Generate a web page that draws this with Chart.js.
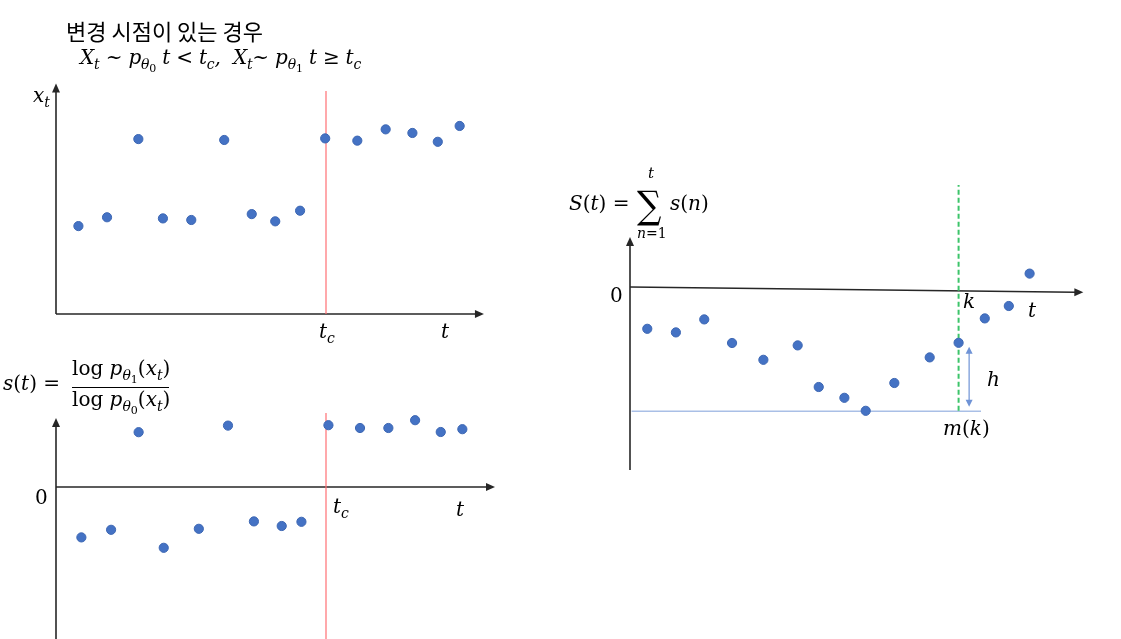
<!DOCTYPE html>
<html><head><meta charset="utf-8">
<script src="https://cdn.jsdelivr.net/npm/chart.js@4"></script>
<style>
html,body{margin:0;padding:0;background:#fff;}
#wrap{position:relative;width:1121px;height:639px;overflow:hidden;background:#fff;}
canvas{position:absolute;left:0;top:0;}
.m{position:absolute;font-family:"DejaVu Serif","Liberation Serif",serif;font-style:italic;font-size:20px;line-height:20px;white-space:nowrap;color:#000;}
.u{font-style:normal;}
.s{font-size:14px;position:relative;top:5px;}
.ss{font-size:11px;position:relative;top:3px;}
.t{position:absolute;font-family:"Noto Sans CJK KR","Noto Sans",sans-serif;font-size:22px;line-height:22px;white-space:nowrap;color:#000;}
</style></head><body><div id="wrap">
<canvas id="c1" width="1121" height="639"></canvas>
<canvas id="c2" width="1121" height="639"></canvas>
<canvas id="c3" width="1121" height="639"></canvas>

<div class="t" style="left:66px;top:19px;">변경 시점이 있는 경우</div>
<div class="m" style="left:80px;top:47px;letter-spacing:-0.2px;">X<span class="s">t</span> <span class="u">~</span> p<span class="s">θ<span class="ss u">0</span></span> t <span class="u">&lt;</span> t<span class="s">c</span>,&nbsp; X<span class="s">t</span><span class="u">~</span> p<span class="s">θ<span class="ss u">1</span></span> t <span class="u">≥</span> t<span class="s">c</span></div>

<div class="m" style="left:33px;top:85px;">x<span class="s">t</span></div>
<div class="m" style="left:319px;top:321px;">t<span class="s">c</span></div>
<div class="m" style="left:441px;top:321px;">t</div>

<div class="m" style="left:3px;top:373px;">s<span class="u">(</span>t<span class="u">) =</span></div>
<div class="m" style="left:72px;top:358px;"><span class="u">log</span> p<span class="s">θ<span class="ss u">1</span></span><span class="u">(</span>x<span class="s">t</span><span class="u">)</span></div>
<div style="position:absolute;left:72px;top:387px;width:97px;height:1px;background:#000;"></div>
<div class="m" style="left:72px;top:389px;"><span class="u">log</span> p<span class="s">θ<span class="ss u">0</span></span><span class="u">(</span>x<span class="s">t</span><span class="u">)</span></div>
<div class="m u" style="left:35px;top:487px;font-style:normal;">0</div>
<div class="m" style="left:333px;top:496px;">t<span class="s">c</span></div>
<div class="m" style="left:456px;top:499px;">t</div>

<div class="m" style="left:569px;top:193px;">S<span class="u">(</span>t<span class="u">) =</span></div>
<div class="m u" style="left:637px;top:186px;font-style:normal;font-size:38px;line-height:38px;transform:scaleX(0.9);transform-origin:left top;">∑</div>
<div class="m" style="left:648px;top:166px;font-size:15px;line-height:15px;">t</div>
<div class="m" style="left:637px;top:226px;font-size:14px;line-height:14px;">n<span class="u">=1</span></div>
<div class="m" style="left:670px;top:193px;">s<span class="u">(</span>n<span class="u">)</span></div>
<div class="m u" style="left:610px;top:285px;font-style:normal;">0</div>
<div class="m" style="left:963px;top:291px;">k</div>
<div class="m" style="left:1028px;top:300px;">t</div>
<div class="m" style="left:987px;top:369px;">h</div>
<div class="m" style="left:943px;top:418px;">m<span class="u">(</span>k<span class="u">)</span></div>
</div>
<script>
// ---- data ----
// Top: observations x_t
const tTop = [0.83, 1.89, 3.05, 3.96, 5.01, 6.23, 7.25, 8.12, 9.04, 9.97, 11.16, 12.21, 13.2, 14.14, 14.95];
const xTop = [3.89, 4.28, 7.74, 4.23, 4.16, 7.70, 4.42, 4.10, 4.57, 7.77, 7.67, 8.17, 8.01, 7.62, 8.32];
// Bottom: log-likelihood ratio s(t)
const tBottom = [0.94, 2.04, 3.06, 3.99, 5.29, 6.37, 7.33, 8.36, 9.09, 10.09, 11.26, 12.31, 13.30, 14.25, 15.05];
const sBottom = [-2.52, -2.14, 2.74, -3.04, -2.09, 3.07, -1.72, -1.95, -1.74, 3.09, 2.95, 2.95, 3.34, 2.75, 2.89];
// Right: cumulative sum S(t)
const tRight = [0.64, 1.70, 2.75, 3.78, 4.94, 6.21, 6.99, 7.94, 8.73, 9.79, 11.10, 12.17, 13.14, 14.03, 14.80];
const SRight = [-2.09, -2.27, -1.62, -2.80, -3.64, -2.92, -5.00, -5.54, -6.19, -4.80, -3.52, -2.79, -1.57, -0.95, 0.67];
const changePoint = 10;   // t_c
const alarmIndex = 11;    // k (0-based index into tRight)

const PT = '#4472C4';

function arrowHead(ctx, x0, y0, x1, y1, len, hw, color) {
  const a = Math.atan2(y1 - y0, x1 - x0);
  ctx.save();
  ctx.fillStyle = color;
  ctx.beginPath();
  ctx.moveTo(x1, y1);
  ctx.lineTo(x1 - len * Math.cos(a) + hw * Math.sin(a), y1 - len * Math.sin(a) - hw * Math.cos(a));
  ctx.lineTo(x1 - len * Math.cos(a) - hw * Math.sin(a), y1 - len * Math.sin(a) + hw * Math.cos(a));
  ctx.closePath();
  ctx.fill();
  ctx.restore();
}

function axesPlugin(lines) {
  return {
    id: 'axesArrows',
    beforeDatasetsDraw(chart) {
      const ctx = chart.ctx, xs = chart.scales.x, ys = chart.scales.y;
      lines.forEach(l => {
        const x0 = xs.getPixelForValue(l.from[0]), y0 = ys.getPixelForValue(l.from[1]);
        const x1 = xs.getPixelForValue(l.to[0]), y1 = ys.getPixelForValue(l.to[1]);
        const len = l.len || 9, hw = l.hw || 4;
        const a = Math.atan2(y1 - y0, x1 - x0);
        ctx.save();
        ctx.strokeStyle = l.color; ctx.lineWidth = l.width;
        ctx.beginPath();
        let sx = x0, sy = y0, ex = x1, ey = y1;
        if (l.end) { ex = x1 - (len - 1) * Math.cos(a); ey = y1 - (len - 1) * Math.sin(a); }
        if (l.start) { sx = x0 + (len - 1) * Math.cos(a); sy = y0 + (len - 1) * Math.sin(a); }
        ctx.moveTo(sx, sy); ctx.lineTo(ex, ey); ctx.stroke();
        ctx.restore();
        if (l.end) arrowHead(ctx, x0, y0, x1, y1, len, hw, l.color);
        if (l.start) arrowHead(ctx, x1, y1, x0, y0, len, hw, l.color);
      });
    }
  };
}

function pts(xs, ys) { return xs.map((x, i) => ({ x: x, y: ys[i] })); }

function makeChart(id, cfg) {
  return new Chart(document.getElementById(id), {
    type: 'scatter',
    data: { datasets: cfg.datasets },
    options: {
      responsive: false, animation: false, events: [],
      layout: { padding: cfg.padding, autoPadding: false },
      scales: {
        x: { type: 'linear', min: cfg.x[0], max: cfg.x[1], display: false },
        y: { type: 'linear', min: cfg.y[0], max: cfg.y[1], display: false }
      },
      plugins: { legend: { display: false }, tooltip: { enabled: false } }
    },
    plugins: [axesPlugin(cfg.axes)]
  });
}

function pointSet(data) {
  return { data: data, backgroundColor: PT, borderColor: '#3D67B3', borderWidth: 1, pointRadius: 4.6, clip: false, order: 0 };
}
function lineSet(data, color, width, dash) {
  return { data: data, showLine: true, borderColor: color, borderWidth: width, borderDash: dash || [], pointRadius: 0, clip: false, order: 1, fill: false };
}

const AX = '#262626';

// Top chart: x_t with change point
makeChart('c1', {
  padding: { left: 56, right: 633, top: 88, bottom: 325 },
  x: [0, 16], y: [0, 10],
  datasets: [
    pointSet(pts(tTop, xTop)),
    lineSet([{ x: changePoint, y: 0 }, { x: changePoint, y: 9.87 }], '#FF6F73', 1.2)
  ],
  axes: [
    { from: [0, 0], to: [0, 10.2], color: AX, width: 1.6, end: true },
    { from: [0, 0], to: [15.85, 0], color: AX, width: 1.6, end: true }
  ]
});

// Bottom chart: s(t)
makeChart('c2', {
  padding: { left: 56, right: 619.5, top: 413, bottom: 19 },
  x: [0, 16.5], y: [-6.65, 3.7],
  datasets: [
    pointSet(pts(tBottom, sBottom)),
    lineSet([{ x: changePoint, y: -7.6 }, { x: changePoint, y: 3.7 }], '#FF6F73', 1.2)
  ],
  axes: [
    { from: [0, -7.6], to: [0, 3.45], color: AX, width: 1.6, end: true },
    { from: [0, 0], to: [16.26, 0], color: AX, width: 1.6, end: true }
  ]
});

// Right chart: S(t) cumulative
const mLevel = Math.min(...SRight);
const kT = tRight[alarmIndex];
makeChart('c3', {
  padding: { left: 630, right: 32, top: 185, bottom: 169 },
  x: [0, 17], y: [-9.15, 5.1],
  datasets: [
    pointSet(pts(tRight, SRight)),
    lineSet([{ x: kT, y: mLevel }, { x: kT, y: 5.1 }], '#3CC46A', 2, [5, 3]),
    lineSet([{ x: 0.06, y: mLevel - 0.02 }, { x: 13.0, y: mLevel - 0.02 }], '#A9BFE6', 1.5)
  ],
  axes: [
    { from: [0, -9.15], to: [0, 2.5], color: AX, width: 1.6, end: true },
    { from: [0, 0], to: [16.79, -0.265], color: AX, width: 1.6, end: true },
    { from: [kT + 0.39, SRight[alarmIndex] - 0.2], to: [kT + 0.39, mLevel + 0.2], color: '#6F93D6', width: 1.2, start: true, end: true, len: 7, hw: 3.5 }
  ]
});
</script>
</body></html>
